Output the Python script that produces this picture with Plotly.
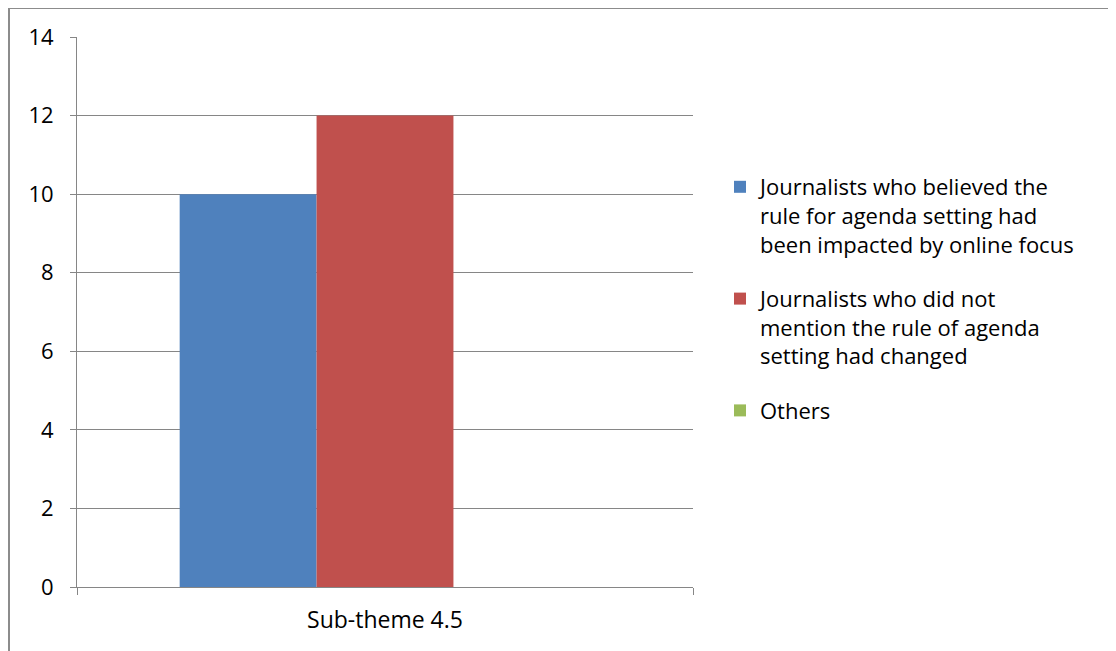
import plotly.graph_objects as go

categories = ["Sub-theme 4.5"]
series_names = [
    "Journalists who believed the<br>rule for agenda setting had<br>been impacted by online focus",
    "Journalists who did not<br>mention the rule of agenda<br>setting had changed",
    "Others",
]
series_values = [[10], [12], [0]]
series_colors = ["#4F81BD", "#C0504D", "#9BBB59"]
y_ticks = [0, 2, 4, 6, 8, 10, 12, 14]

# figure is placed at (8, 8) in the page by the default body margin
W, H = 1108, 643
L, R, T, B = 69, 685, 29, 579
pw, ph = R - L, B - T

fig = go.Figure()
for i, (name, vals, col) in enumerate(zip(series_names, series_values, series_colors)):
    fig.add_trace(go.Bar(x=categories, y=vals, name=name, marker_color=col,
                         marker_line_width=0, legendgroup=f"g{i}"))

font = "Open Sans, Carlito, Calibri, sans-serif"
fig.update_layout(
    width=W, height=H,
    margin=dict(l=L, r=W - R, t=T, b=H - B, pad=0),
    paper_bgcolor="white", plot_bgcolor="white",
    barmode="group", bargap=1/3, bargroupgap=0,
    font=dict(family=font, size=22, color="#000000"),
    showlegend=True,
    legend=dict(x=(712 - L) / pw, xanchor="left", y=(B - 158) / ph, yanchor="top",
                valign="top", tracegroupgap=23, font=dict(size=22),
                bgcolor="rgba(0,0,0,0)"),
    xaxis=dict(type="category", showline=True, linecolor="#868686", linewidth=1,
               ticks="outside", tickson="boundaries", ticklen=7, tickcolor="#868686",
               showgrid=False, ticklabelstandoff=12, tickfont=dict(size=23)),
    yaxis=dict(range=[0, 14], tickvals=y_ticks, showline=True, linecolor="#868686",
               linewidth=1, ticks="outside", ticklen=6, tickcolor="#868686",
               showgrid=True, gridcolor="#868686", gridwidth=1, zeroline=False,
               ticklabelstandoff=12, tickfont=dict(size=22)),
    shapes=[dict(type="rect", xref="paper", yref="paper",
                 x0=(1 - L) / pw, x1=2.0, y0=-1.0, y1=(B - 0) / ph,
                 line=dict(color="#8C8C8C", width=2), fillcolor="rgba(0,0,0,0)", layer="below")],
)

fig.write_html("out.html")
